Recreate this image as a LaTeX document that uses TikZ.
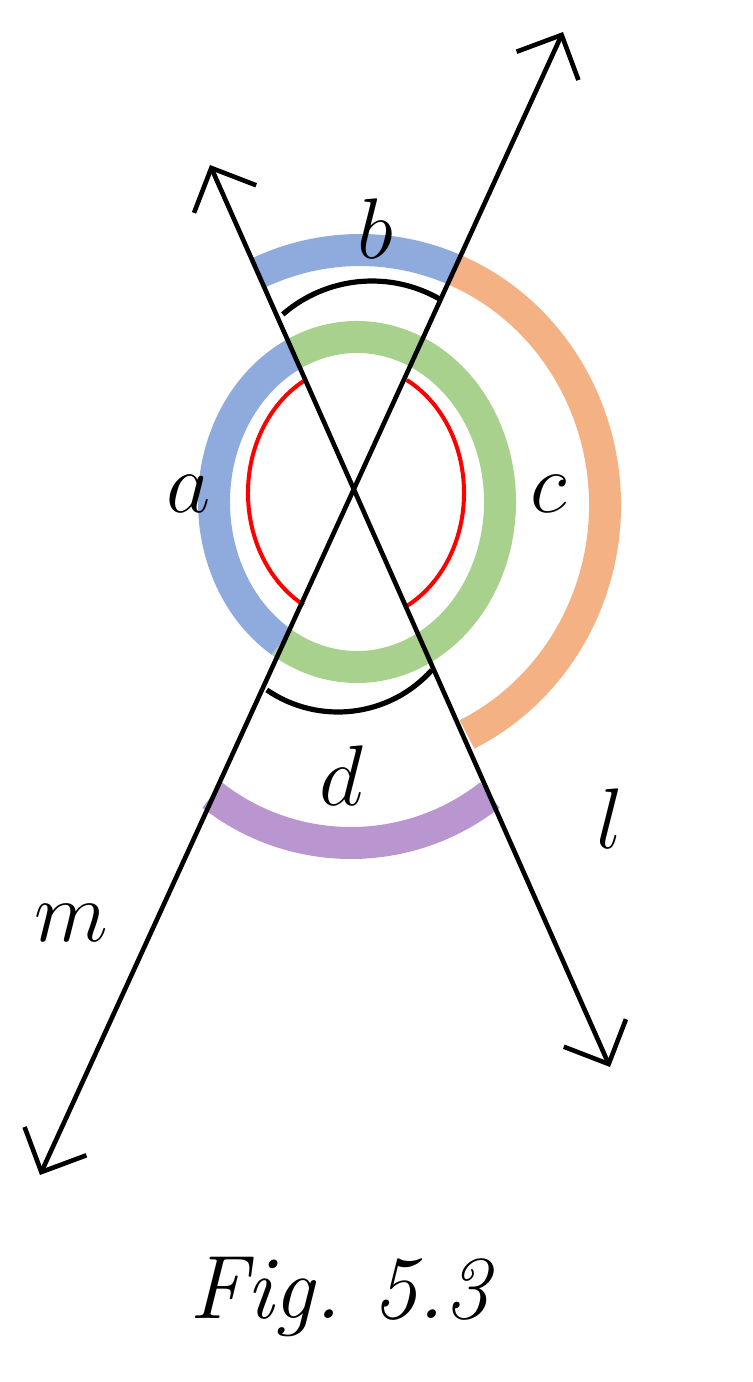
\RequirePackage{fix-cm}
\documentclass[tikz,border=0pt]{standalone}
\usetikzlibrary{arrows.meta}
\definecolor{ringblue}{RGB}{143,170,220}
\definecolor{ringgreen}{RGB}{169,209,142}
\definecolor{ringorange}{RGB}{244,177,131}
\definecolor{ringpurple}{RGB}{186,150,208}
\begin{document}
\begin{tikzpicture}[x=0.5pt, y=-0.5pt,
  ring/.style={line width=16pt},
  thin arc/.style={line width=2.6pt},
  main line/.style={line width=2.3pt, {Straight Barb[length=17pt,width=34pt]}-{Straight Barb[length=17pt,width=34pt]}},
  lbl/.style={font=\fontsize{43}{48}\selectfont, anchor=base}]
\useasboundingbox (0,0) rectangle (752,1382);
% ends of the two lines and arc centres
\coordinate (l1) at (210,165);
\coordinate (l2) at (610,1067);
\coordinate (m1) at (563,32);
\coordinate (m2) at (40,1175);
\coordinate (gc) at (357,502);
\coordinate (rc) at (356,493);
\coordinate (oc) at (360,505);
\coordinate (tc) at (372,417);
\coordinate (bc) at (338,586);
\coordinate (pc) at (351,618);

% coloured angle marks
\draw[ring, ringgreen] ([shift={(-116:143 and 165)}]gc) arc[start angle=-116, end angle=122, x radius=143, y radius=165];
\draw[ring, ringblue] ([shift={(122:143 and 165)}]gc) arc[start angle=122, end angle=244, x radius=143, y radius=165];
\draw[ring, ringblue] ([shift={(-114.5:245 and 255)}]oc) arc[start angle=-114.5, end angle=-67.6, x radius=245, y radius=255];
\draw[ring, ringorange] ([shift={(-67.6:245 and 255)}]oc) arc[start angle=-67.6, end angle=64.1, x radius=245, y radius=255];
\draw[ring, ringpurple] ([shift={(51.9:225)}]pc) arc[start angle=51.9, end angle=128.1, radius=225];

% thin marks
\draw[thin arc, red, line width=2pt] ([shift={(119:108 and 128)}]rc) arc[start angle=119, end angle=243, x radius=108, y radius=128];
\draw[thin arc, red, line width=2pt] ([shift={(-62:108 and 128)}]rc) arc[start angle=-62, end angle=62, x radius=108, y radius=128];
\draw[thin arc] ([shift={(-131:136)}]tc) arc[start angle=-131, end angle=-60, radius=136];
\draw[thin arc] ([shift={(41.8:126)}]bc) arc[start angle=41.8, end angle=124.4, radius=126];

% the lines
\draw[main line] (l2) -- (l1);
\draw[main line] (m2) -- (m1);

% labels
\node[lbl] (lb) at (375,258) {$b$};
\node[lbl] (la) at (189,512) {$a$};
\node[lbl] (lc) at (549,512) {$c$};
\node[lbl] (ld) at (341,805) {$d$};
\node[lbl] (ll) at (610,848) {$l$};
\node[lbl] (lm) at (71,941) {$m$};
\node[lbl, font=\fontsize{45}{50}\selectfont] (cap) at (342,1318) {\textit{Fig.~5.3}};
\end{tikzpicture}
\end{document}
